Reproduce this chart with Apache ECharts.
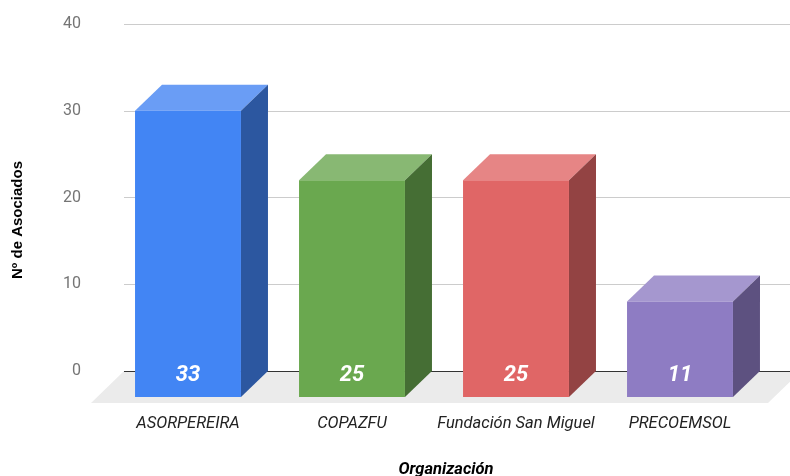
<!DOCTYPE html>
<html>
<head>
<meta charset="utf-8">
<script src="https://cdn.jsdelivr.net/npm/echarts@6/dist/echarts.min.js"></script>
<style>
html,body{margin:0;padding:0;background:#fff;}
#c{width:790px;height:476px;}
</style>
</head>
<body>
<div id="c"></div>
<script>
const categories = ['ASORPEREIRA', 'COPAZFU', 'Fundación San Miguel', 'PRECOEMSOL'];
const values = [33, 25, 25, 11];
const frontColors = ['#4285F4', '#6AA84F', '#E06666', '#8E7CC3'];
const topColors = ['#6A9DF5', '#88B873', '#E68585', '#A597CF'];
const sideColors = ['#2C57A0', '#456E34', '#934343', '#5D5180'];
const yMin = 0, yMax = 40, yStep = 10;

const DX = 27, DY = 26;

const chart = echarts.init(document.getElementById('c'), null, {renderer: 'canvas'});

function renderBar(params, api) {
  const i = api.value(0);
  const v = api.value(1);
  const top = api.coord([i, v]);
  const base = api.coord([i, 0]);
  const w = api.size([1, 0])[0] * 0.646;
  const bx = top[0] - w / 2;
  const fx = bx - DX;
  const ftop = top[1] + DY;
  const fbot = base[1] + DY;
  const idx = params.dataIndex;
  return {
    type: 'group',
    children: [
      {type: 'polygon', shape: {points: [[fx, ftop], [fx + w, ftop], [bx + w, top[1]], [bx, top[1]]]},
       style: {fill: topColors[idx]}},
      {type: 'polygon', shape: {points: [[fx + w, ftop], [bx + w, top[1]], [bx + w, base[1]], [fx + w, fbot]]},
       style: {fill: sideColors[idx]}},
      {type: 'rect', shape: {x: fx, y: ftop, width: w, height: fbot - ftop},
       style: {fill: frontColors[idx]}},
      {type: 'text', style: {text: String(v), x: fx + w / 2, y: base[1] + 4, textAlign: 'center', textVerticalAlign: 'middle',
        fill: '#ffffff', font: 'italic bold 22px Roboto'}}
    ]
  };
}

function renderFloor(params, api) {
  const cs = params.coordSys;
  const by = api.coord([0, 0])[1];
  const l = cs.x - 9, r = cs.x + cs.width + 12;
  return {
    type: 'group',
    children: [
      {type: 'polygon', shape: {points: [[l, by], [r, by], [r - 33, by + 32], [l - 33, by + 32]]},
       style: {fill: '#ebebeb'}},
      {type: 'line', shape: {x1: l, y1: by + 0.5, x2: cs.x + cs.width + 1, y2: by + 0.5},
       style: {stroke: '#333333', lineWidth: 1}}
    ]
  };
}

chart.setOption({
  animation: false,
  backgroundColor: '#ffffff',
  grid: [
    {left: 124, right: 0, top: 24, bottom: 105},
    {left: 133, right: 1, top: 24, bottom: 105}
  ],
  xAxis: [
    {type: 'value', gridIndex: 0, show: false, min: 0, max: 1},
    {type: 'category', gridIndex: 1, data: categories,
     axisLine: {show: false}, axisTick: {show: false}, splitLine: {show: false},
     axisLabel: {interval: 0, margin: 44, padding: [0, 54, 0, 0], color: '#222222', fontSize: 16.5, fontStyle: 'italic', fontFamily: 'Roboto'}}
  ],
  yAxis: [
    {type: 'value', gridIndex: 0, min: yMin, max: yMax, interval: yStep,
     axisLine: {show: false}, axisTick: {show: false},
     axisLabel: {margin: 43, color: '#757575', fontSize: 16, fontFamily: 'Roboto'},
     splitLine: {lineStyle: {color: '#cccccc', width: 1}}},
    {type: 'value', gridIndex: 1, min: yMin, max: yMax, interval: yStep, show: false, splitLine: {show: false}}
  ],
  graphic: [
    {type: 'text', x: 18, y: 220, rotation: Math.PI / 2,
     style: {text: 'Nº de Asociados', x: 0, y: 0, textAlign: 'center', textVerticalAlign: 'middle',
       fill: '#000000', font: 'bold 15px "Liberation Sans", Arial'}},
    {type: 'text', x: 446, y: 470,
     style: {text: 'Organización', x: 0, y: 0, textAlign: 'center', textVerticalAlign: 'middle',
       fill: '#000000', font: 'italic bold 16.5px Roboto'}}
  ],
  series: [
    {type: 'custom', name: 'floor', xAxisIndex: 1, yAxisIndex: 1, z: 1, silent: true,
     data: [[0, 0]], renderItem: renderFloor},
    {type: 'custom', name: 'Nº de Asociados', xAxisIndex: 1, yAxisIndex: 1, z: 2,
     data: values.map((v, i) => [i, v]), encode: {x: 0, y: 1}, renderItem: renderBar}
  ]
});
</script>
</body>
</html>
